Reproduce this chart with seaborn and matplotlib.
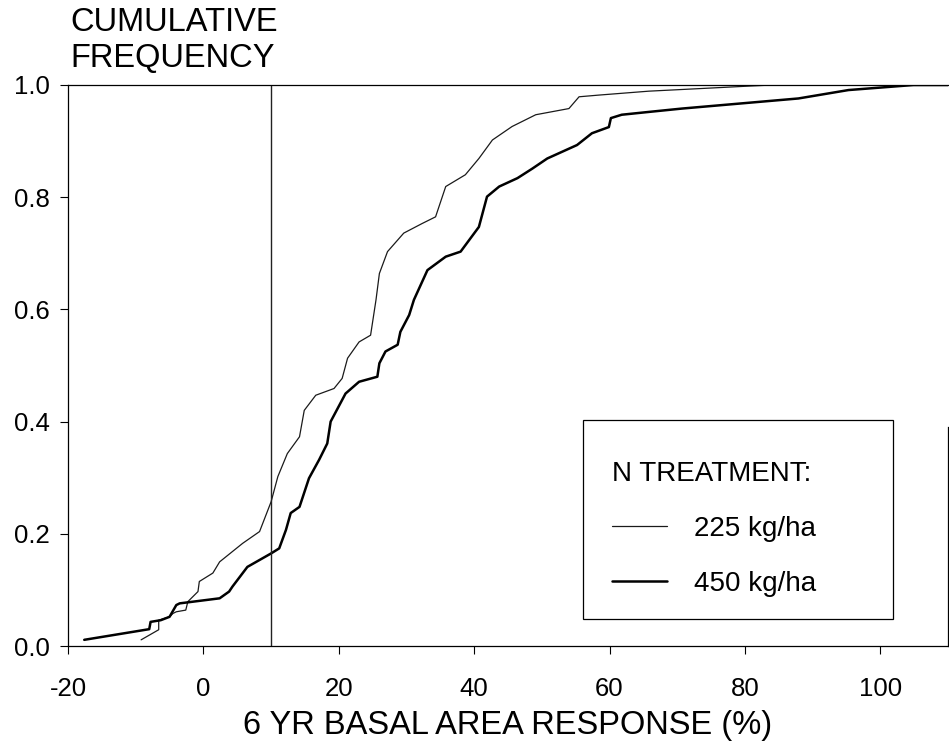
import numpy as np
import pandas as pd
import seaborn as sns
import matplotlib
matplotlib.use("Agg")
import matplotlib.pyplot as plt
from matplotlib.patches import Rectangle

# curva 225 kg/ha (linha fina)
x225 = [-9.2, -6.6, -6.6, -5.0, -4.5, -4.0, -2.6, -2.3, -0.8, -0.6, 1.4, 2.4, 5.8, 8.3,
        10.0, 11.0, 12.4, 14.2, 14.9, 16.6, 19.3, 20.5, 21.3, 23.0, 24.7, 25.5, 26.0, 27.2,
        29.6, 32.3, 34.3, 35.8, 38.7, 40.7, 42.7, 45.6, 49.1, 54.0, 55.5, 58.4, 65.8, 74.0,
        80.5, 84.0, 110.0]
y225 = [0.011, 0.029, 0.046, 0.052, 0.058, 0.061, 0.064, 0.079, 0.097, 0.115, 0.130, 0.150,
        0.183, 0.204, 0.257, 0.302, 0.343, 0.373, 0.420, 0.447, 0.459, 0.477, 0.513, 0.542,
        0.554, 0.617, 0.664, 0.703, 0.736, 0.753, 0.765, 0.819, 0.840, 0.869, 0.902, 0.926,
        0.947, 0.958, 0.979, 0.982, 0.989, 0.994, 0.998, 1.0, 1.0]

# curva 450 kg/ha (linha grossa)
x450 = [-17.6, -8.0, -7.8, -6.3, -5.0, -4.0, -3.5, 2.4, 3.8, 4.3, 6.5, 10.0, 11.2, 12.2,
        12.9, 14.2, 15.6, 17.1, 18.3, 18.8, 21.0, 23.0, 25.7, 26.0, 26.9, 28.7, 29.1, 30.4,
        31.1, 33.1, 35.8, 38.0, 40.7, 41.9, 43.7, 46.4, 48.6, 50.8, 55.2, 57.4, 59.9, 60.2,
        61.8, 65.8, 70.7, 87.9, 95.3, 104.9, 110.0]
y450 = [0.011, 0.030, 0.043, 0.046, 0.052, 0.073, 0.076, 0.085, 0.097, 0.106, 0.141, 0.165,
        0.174, 0.207, 0.237, 0.248, 0.299, 0.332, 0.361, 0.400, 0.450, 0.471, 0.480, 0.504,
        0.525, 0.537, 0.560, 0.590, 0.617, 0.670, 0.694, 0.703, 0.747, 0.801, 0.819, 0.834,
        0.851, 0.869, 0.893, 0.914, 0.925, 0.941, 0.947, 0.952, 0.958, 0.976, 0.991, 1.0, 1.0]

xticks = [-20, 0, 20, 40, 60, 80, 100]
yticks = [0.0, 0.2, 0.4, 0.6, 0.8, 1.0]
linha_ref = 10

sns.set_style("ticks")
plt.rcParams['font.family'] = ['Liberation Sans', 'DejaVu Sans']
plt.rcParams['axes.unicode_minus'] = False
plt.rcParams['text.color'] = 'black'
plt.rcParams['axes.labelcolor'] = 'black'

fig = plt.figure(figsize=(9.49, 7.42), dpi=100)
ax = fig.add_axes([68 / 949, 96 / 742, 880 / 949, 561 / 742])

sns.lineplot(x=x225, y=y225, sort=False, estimator=None, color="#1a1a1a", linewidth=0.9,
             ax=ax, label="225 kg/ha")
sns.lineplot(x=x450, y=y450, sort=False, estimator=None, color="black", linewidth=1.8,
             ax=ax, label="450 kg/ha")
ax.axvline(linha_ref, color="#222222", linewidth=1.0)

ax.set_xlim(-20, 110)
ax.set_ylim(0, 1)
ax.set_xticks(xticks)
ax.set_yticks(yticks)
ax.set_yticklabels([f"{v:.1f}" for v in yticks])
ax.tick_params(axis="both", direction="out", length=6, width=0.8, labelsize=18.5,
               colors="black", labelcolor="black")
ax.tick_params(axis="x", pad=16)
ax.tick_params(axis="y", pad=7)

for s in ["left", "bottom", "top", "right"]:
    ax.spines[s].set_visible(True)
    ax.spines[s].set_color("black")
    ax.spines[s].set_linewidth(0.9)
ax.spines["right"].set_bounds(0, 0.39)

ax.set_xlabel("6 YR BASAL AREA RESPONSE (%)", fontsize=23.5, labelpad=7, color="black")
ax.set_ylabel("")
fig.text(70 / 949, 1 - 7 / 742, "CUMULATIVE\nFREQUENCY", fontsize=23.5, ha="left", va="top",
         linespacing=1.2, color="black")

# caixa da legenda desenhada a parte
ax.add_patch(Rectangle((0.585, 0.048), 0.352, 0.355, transform=ax.transAxes,
                       facecolor="white", edgecolor="black", linewidth=0.9, zorder=3))
leg = ax.legend(title="N TREATMENT:", loc="upper left",
                bbox_to_anchor=(0.618, 0.33),
                fontsize=20, title_fontsize=20, alignment="left",
                handlelength=2.0, handletextpad=0.95, labelspacing=1.05,
                borderpad=0, borderaxespad=0, frameon=False)
for t in leg.get_texts():
    t.set_color("black")
leg.get_title().set_color("black")

plt.savefig("out.png", dpi=100)
